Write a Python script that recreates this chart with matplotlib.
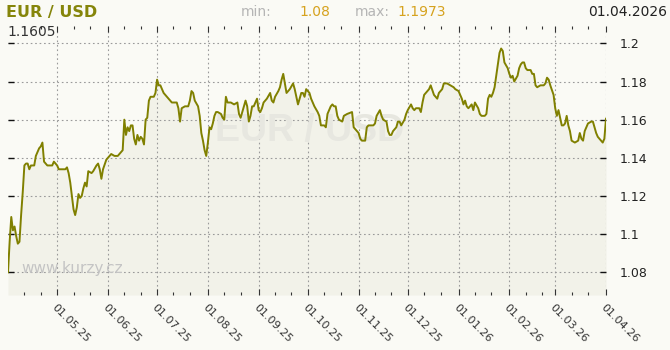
import matplotlib
matplotlib.use('Agg')
import matplotlib.pyplot as plt
import matplotlib.dates as mdates
from matplotlib.ticker import FixedLocator, FuncFormatter
import pandas as pd

# EUR/USD daily rate, day offset from 2025-04-01
start = pd.Timestamp('2025-04-01')
day = [0, 1, 2, 3, 4, 5, 6, 7, 8, 9, 10, 11, 12, 13, 14, 16, 17, 19, 20, 21,
       22, 24, 27, 28, 30, 31, 33, 35, 36, 37, 38, 39, 40, 41, 42, 43, 44, 45, 46, 47,
       48, 49, 51, 52, 54, 55, 56, 57, 58, 60, 61, 62, 63, 65, 67, 69, 70, 71, 72, 73,
       74, 75, 76, 77, 78, 79, 80, 81, 82, 83, 84, 85, 86, 87, 89, 90, 91, 92, 93, 95,
       97, 99, 100, 102, 103, 104, 105, 106, 108, 110, 111, 112, 113, 114, 116, 117, 118, 119, 120, 121,
       122, 123, 124, 125, 126, 127, 128, 130, 131, 132, 133, 134, 136, 138, 140, 141, 142, 143, 145, 146,
       147, 148, 149, 150, 151, 152, 153, 154, 155, 156, 158, 160, 161, 162, 163, 165, 166, 167, 168, 169,
       170, 172, 174, 175, 176, 177, 178, 179, 180, 181, 182, 184, 185, 187, 189, 190, 191, 193, 194, 195,
       197, 198, 199, 200, 201, 202, 204, 205, 207, 210, 211, 212, 214, 215, 216, 218, 219, 220, 223, 224,
       225, 227, 228, 229, 231, 232, 233, 234, 235, 236, 237, 238, 239, 240, 242, 243, 244, 246, 247, 248,
       249, 251, 252, 253, 254, 255, 257, 258, 260, 262, 263, 265, 266, 268, 270, 272, 273, 275, 277, 278,
       279, 280, 281, 283, 284, 285, 287, 288, 289, 291, 292, 293, 294, 295, 296, 297, 298, 299, 300, 301,
       302, 303, 305, 306, 307, 308, 309, 311, 312, 313, 314, 315, 316, 317, 319, 320, 321, 322, 323, 325,
       327, 328, 329, 330, 331, 333, 334, 335, 336, 337, 338, 339, 340, 341, 342, 343, 344, 346, 348, 349,
       350, 351, 352, 353, 354, 356, 357, 359, 360, 362, 363, 364, 365]
rate = [1.080, 1.096, 1.109, 1.102, 1.104, 1.099, 1.095, 1.096, 1.110, 1.122, 1.136, 1.137, 1.137, 1.134, 1.136, 1.136, 1.141, 1.145, 1.146, 1.148,
        1.138, 1.136, 1.136, 1.138, 1.136, 1.134, 1.134, 1.134, 1.135, 1.132, 1.127, 1.120, 1.113, 1.110, 1.114, 1.121, 1.119, 1.120, 1.124, 1.127,
        1.125, 1.133, 1.132, 1.133, 1.136, 1.137, 1.134, 1.129, 1.134, 1.139, 1.140, 1.141, 1.142, 1.141, 1.141, 1.143, 1.144, 1.160, 1.152, 1.156,
        1.154, 1.157, 1.157, 1.150, 1.147, 1.152, 1.149, 1.151, 1.150, 1.147, 1.160, 1.161, 1.170, 1.172, 1.172, 1.174, 1.181, 1.178, 1.178, 1.174,
        1.172, 1.170, 1.169, 1.169, 1.169, 1.166, 1.159, 1.166, 1.167, 1.167, 1.170, 1.175, 1.174, 1.170, 1.167, 1.162, 1.153, 1.149, 1.144, 1.141,
        1.148, 1.156, 1.155, 1.158, 1.162, 1.164, 1.164, 1.163, 1.161, 1.160, 1.172, 1.169, 1.169, 1.168, 1.169, 1.163, 1.161, 1.164, 1.170, 1.167,
        1.159, 1.162, 1.167, 1.167, 1.169, 1.171, 1.165, 1.164, 1.166, 1.169, 1.171, 1.174, 1.170, 1.169, 1.172, 1.175, 1.177, 1.181, 1.184, 1.179,
        1.174, 1.176, 1.179, 1.176, 1.172, 1.168, 1.171, 1.174, 1.174, 1.172, 1.176, 1.174, 1.171, 1.167, 1.164, 1.162, 1.157, 1.157, 1.156, 1.163,
        1.167, 1.168, 1.167, 1.167, 1.162, 1.160, 1.159, 1.162, 1.163, 1.164, 1.156, 1.155, 1.153, 1.150, 1.149, 1.149, 1.156, 1.157, 1.157, 1.158,
        1.162, 1.165, 1.162, 1.160, 1.159, 1.154, 1.152, 1.152, 1.154, 1.155, 1.156, 1.159, 1.159, 1.157, 1.160, 1.163, 1.165, 1.168, 1.166, 1.165,
        1.166, 1.166, 1.164, 1.169, 1.173, 1.174, 1.176, 1.178, 1.173, 1.171, 1.174, 1.176, 1.179, 1.179, 1.178, 1.177, 1.176, 1.175, 1.171, 1.168,
        1.170, 1.167, 1.166, 1.168, 1.165, 1.169, 1.166, 1.163, 1.162, 1.162, 1.163, 1.171, 1.173, 1.172, 1.174, 1.177, 1.183, 1.189, 1.195, 1.1973,
        1.196, 1.190, 1.187, 1.184, 1.182, 1.183, 1.180, 1.183, 1.187, 1.189, 1.190, 1.190, 1.187, 1.186, 1.186, 1.184, 1.184, 1.178, 1.177, 1.178,
        1.178, 1.179, 1.182, 1.181, 1.178, 1.173, 1.166, 1.162, 1.165, 1.161, 1.157, 1.157, 1.158, 1.162, 1.157, 1.154, 1.149, 1.148, 1.149, 1.153,
        1.150, 1.149, 1.154, 1.156, 1.158, 1.159, 1.159, 1.153, 1.151, 1.149, 1.148, 1.150, 1.1605]

y_ticks = [1.08, 1.10, 1.12, 1.14, 1.16, 1.18, 1.20]
min_label = '1.08'
max_label = '1.1973'
last_label = '1.1605'
date_label = '01.04.2026'
pair = 'EUR / USD'

dates = start + pd.to_timedelta(day, unit='D')

W, H = 670, 350
fig = plt.figure(figsize=(W / 100, H / 100), dpi=100, facecolor='#fafaf5')
ax = fig.add_axes([8 / W, 55 / H, 598 / W, 269 / H])
ax.set_facecolor('#fafaf5')

ymin, ymax = 1.0681, 1.2091
ax.fill_between(dates, rate, ymin, color='#f2f2e9', lw=0, zorder=1)
ax.plot(dates, rate, color='#808000', lw=1.4, zorder=3)

ax.set_xlim(start, pd.Timestamp('2026-04-01'))
ax.set_ylim(ymin, ymax)

# month ticks + grid
months = pd.date_range('2025-05-01', '2026-04-01', freq='MS')
minors = [d for m in pd.date_range('2025-04-01', '2026-03-01', freq='MS')
          for d in (m + pd.Timedelta(days=10), m + pd.Timedelta(days=20))]
ax.xaxis.set_major_locator(FixedLocator(mdates.date2num(months)))
ax.xaxis.set_minor_locator(FixedLocator(mdates.date2num(minors)))
ax.xaxis.set_major_formatter(mdates.DateFormatter('%d.%m.%y'))
ax.set_yticks(y_ticks)
ax.yaxis.set_major_formatter(FuncFormatter(lambda v, p: '%g' % round(v, 2)))

for s in ax.spines.values():
    s.set_visible(False)

ax.grid(True, which='major', color='#9a9a9a', lw=0.8, linestyle=(0, (1.5, 2.5)))
ax.tick_params(axis='x', which='major', direction='in', top=True, bottom=True,
               length=4, width=0.8, color='#333333', labelsize=8, labelcolor='#333333', pad=5)
ax.tick_params(axis='x', which='minor', direction='in', top=True, bottom=True,
               length=2, width=0.8, color='#333333')
ax.tick_params(axis='y', which='major', direction='in', left=True, right=True,
               labelleft=False, labelright=True, length=4.5, width=1,
               color='#111111', labelsize=9, labelcolor='#222222', pad=10)
for lab in ax.get_xticklabels():
    lab.set_rotation(-45)
    lab.set_ha('left')
    lab.set_va('top')
    lab.set_rotation_mode('anchor')

# watermarks
ax.text(0.505, 0.61, pair, transform=ax.transAxes, ha='center', va='center',
        fontsize=27, fontweight='bold', family='Liberation Sans', color='#e7e7e0', zorder=2)
ax.text(13 / 598, 0.1, 'www.kurzy.cz', transform=ax.transAxes, ha='left', va='center',
        fontsize=11, color='#c4c4c4', zorder=2)

# header
def fx(x):
    return x / W

def fy(y):
    return 1 - y / H

fig.text(fx(6), fy(12), pair, ha='left', va='center', fontsize=11.5,
         fontweight='bold', color='#85850a')
fig.text(fx(241), fy(12), 'min:', ha='left', va='center', fontsize=10, color='#b5b5b5')
fig.text(fx(299), fy(12), min_label, ha='left', va='center', fontsize=10, color='#d6a21e')
fig.text(fx(355), fy(12), 'max:', ha='left', va='center', fontsize=10, color='#b5b5b5')
fig.text(fx(397), fy(12), max_label, ha='left', va='center', fontsize=10, color='#d6a21e')
fig.text(fx(667), fy(12), date_label, ha='right', va='center', fontsize=10, color='#222222')
fig.text(fx(7), fy(32), last_label, ha='left', va='center', fontsize=10, color='#333333')

fig.savefig('out.png', dpi=100, facecolor=fig.get_facecolor())
